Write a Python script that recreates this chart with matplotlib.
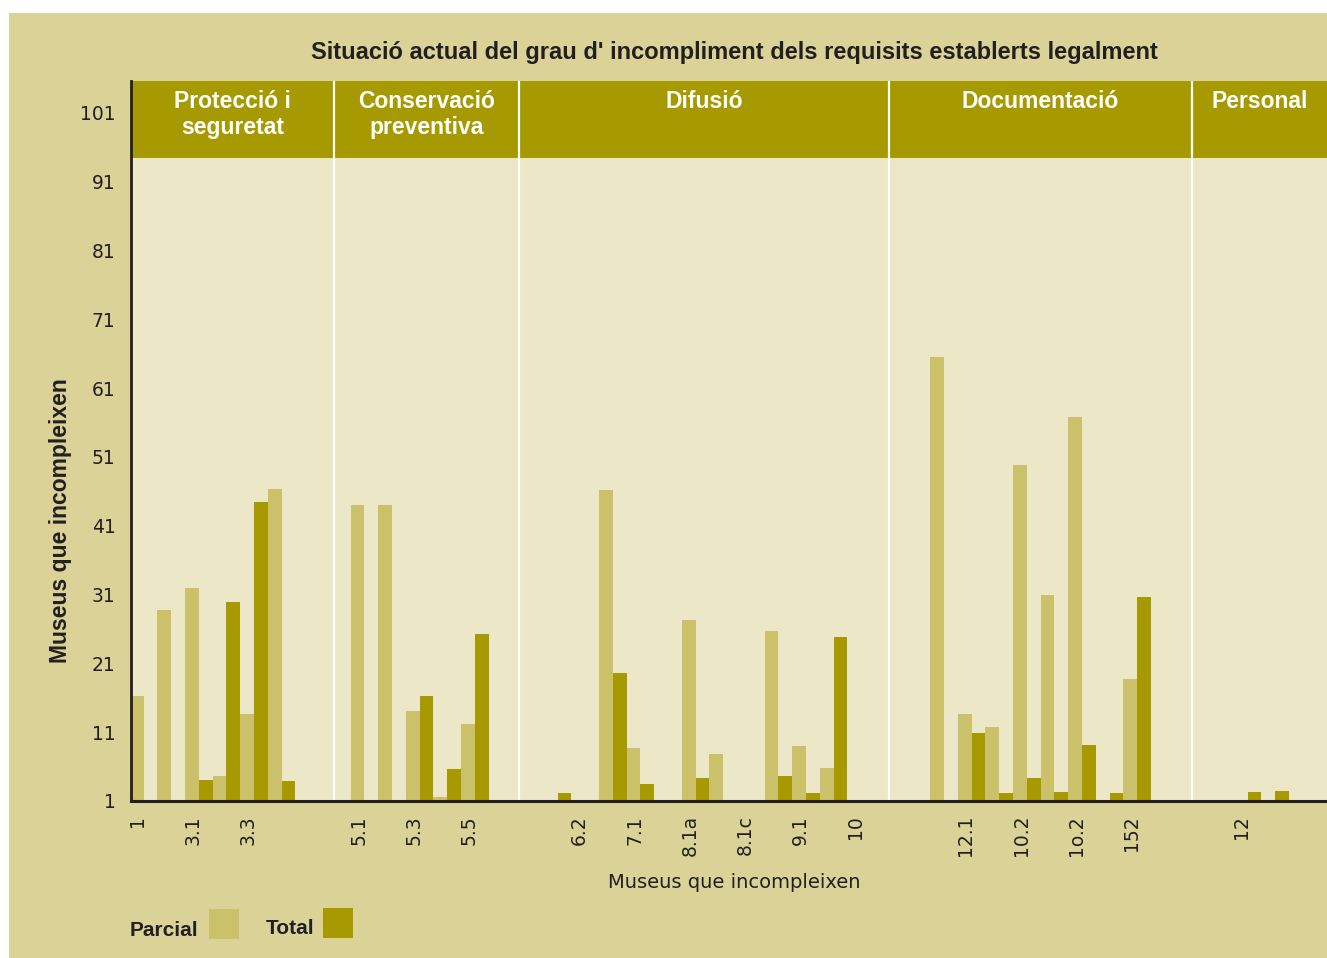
import numpy as np
import matplotlib
matplotlib.use("Agg")
import matplotlib.pyplot as plt
from matplotlib.patches import Rectangle

# ---- data (the axis starts at 1) ------------------------------------------
parcial = [16.3, 28.8, 32.0, 4.6, 13.6, 46.3, 0, 0,
           44.0, 44.0, 14.1, 1.6, 12.2, 0, 0,
           0, 0, 46.2, 8.7, 0, 27.3, 7.8, 0, 25.7, 9.0, 5.8, 0, 0, 0,
           65.6, 13.7, 11.7, 49.8, 31.0, 56.8, 0, 18.8, 0, 0, 0,
           0, 0, 0]
total = [0, 0, 4.0, 29.9, 44.5, 3.9, 0, 0,
         0, 0, 16.3, 5.6, 25.3, 0, 0,
         2.2, 0, 19.6, 3.5, 0, 4.3, 0, 0, 4.6, 2.2, 24.8, 0, 0, 0,
         0, 10.9, 2.1, 4.3, 2.3, 9.2, 2.1, 30.6, 0, 0, 0,
         2.3, 2.4, 0]
tick_labels = ["1", "3.1", "3.3", "", "5.1", "5.3", "5.5", "", "6.2", "7.1",
               "8.1a", "8.1c", "9.1", "10", "", "12.1", "10.2", "1o.2", "152",
               "", "12", ""]
sections = ["Protecció i\nseguretat", "Conservació\npreventiva", "Difusió",
            "Documentació", "Personal"]
section_edges = [6.9, 13.6, 27.0, 38.0]
yticks = [1, 11, 21, 31, 41, 51, 61, 71, 81, 91, 101]

# ---- colours ---------------------------------------------------------------
PANEL = "#DBD298"
PLOT_BG = "#ECE7C6"
LIGHT = "#CBC16B"
DARK = "#A69A00"
INK = "#231F20"

W, H = 1327, 958
fig = plt.figure(figsize=(W / 100, H / 100), dpi=100)
fig.patch.set_facecolor("white")
fig.add_artist(Rectangle((9 / W, 0), 1 - 9 / W, 1 - 13 / H,
                         transform=fig.transFigure, fc=PANEL, ec="none", zorder=0))

ax = fig.add_axes([131 / W, 1 - 801 / H, 1 - 131 / W, (801 - 81) / H])
ax.set_facecolor(PLOT_BG)

x = np.arange(len(parcial))
bw = 0.5
ax.bar(x - bw / 2, parcial, width=bw, color=LIGHT, zorder=2)
ax.bar(x + bw / 2, total, width=bw, color=DARK, zorder=2)

xmin, xmax = -0.453, 42.88
ymin, ymax = 1, 105.65
ax.set_xlim(xmin, xmax)
ax.set_ylim(ymin, ymax)

# header band + separators
ax.axhspan(94.5, ymax, color=DARK, zorder=1, lw=0)
for e in section_edges:
    ax.axvline(e, color="white", lw=1.6, zorder=3)
bounds = [xmin] + section_edges + [xmax]
for name, a, b in zip(sections, bounds[:-1], bounds[1:]):
    ax.text((a + b) / 2, 104.4, name, ha="center", va="top", color="white",
            fontsize=16.5, fontweight="heavy", family="Liberation Sans",
            linespacing=1.2, zorder=4)

ax.set_yticks(yticks)
ax.set_yticklabels([str(v) for v in yticks])
ax.set_xticks(np.arange(0, 2 * len(tick_labels), 2) - 0.2)
ax.set_xticklabels(tick_labels, rotation=90, va="top", ha="center")
ax.tick_params(axis="both", length=0, labelsize=13.5, colors=INK)
ax.tick_params(axis="y", pad=11)
ax.tick_params(axis="x", pad=10)

ax.spines[["top", "right"]].set_visible(False)
ax.spines["left"].set_linewidth(2.0)
ax.spines["bottom"].set_linewidth(2.2)
ax.spines["left"].set_color(INK)
ax.spines["bottom"].set_color(INK)
ax.spines["left"].set_zorder(5)
ax.spines["bottom"].set_zorder(5)

ax.set_xlabel("Museus que incompleixen", fontsize=14, color=INK)
ax.xaxis.set_label_coords(0.504, -0.1125)
ax.xaxis.label.set_va("center")
ax.set_ylabel("Museus que incompleixen", fontsize=16.5, fontweight="bold",
              family="Liberation Sans", color=INK)
ax.yaxis.set_label_coords(-0.059, 0.39)
ax.yaxis.label.set_va("center")

fig.text(734 / W, 1 - 53 / H,
         "Situació actual del grau d' incompliment dels requisits establerts legalment",
         ha="center", va="center", fontsize=17, fontweight="bold",
         family="Liberation Sans", color=INK)

# legend drawn by hand
fig.text(130 / W, 1 - 931 / H, "Parcial", ha="left", va="center", fontsize=15,
         fontweight="bold", family="Liberation Sans", color=INK)
fig.add_artist(Rectangle((209 / W, 1 - 939 / H), 30 / W, 30 / H,
                         transform=fig.transFigure, fc=LIGHT, ec="none"))
fig.text(266 / W, 1 - 929 / H, "Total", ha="left", va="center", fontsize=15,
         fontweight="bold", family="Liberation Sans", color=INK)
fig.add_artist(Rectangle((323 / W, 1 - 938 / H), 30 / W, 30 / H,
                         transform=fig.transFigure, fc=DARK, ec="none"))

fig.savefig("out.png", dpi=100)
